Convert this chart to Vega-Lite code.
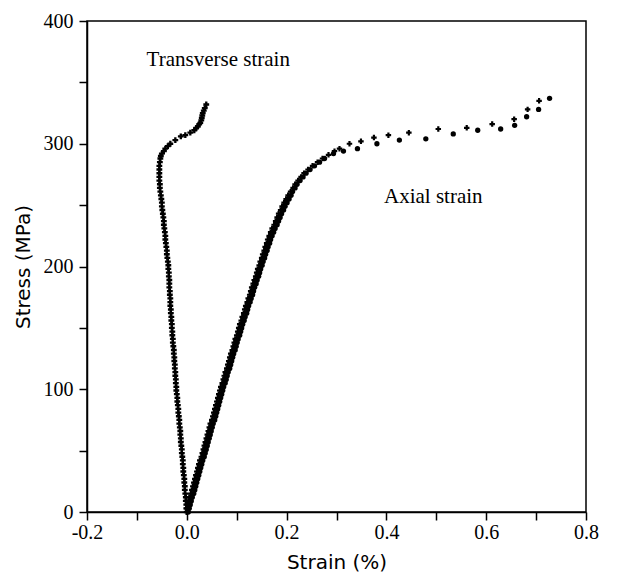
{
  "$schema": "https://vega.github.io/schema/vega-lite/v6.json",
  "width": 499,
  "height": 491,
  "autosize": "none",
  "padding": {"left": 87, "top": 21, "right": 32, "bottom": 62},
  "background": "white",
  "config": {
    "view": {"stroke": "black", "strokeWidth": 1.5},
    "axis": {"grid": false, "domainColor": "black", "domainWidth": 1.5, "tickColor": "black", "tickWidth": 1.5, "labelColor": "black", "titleColor": "black"}
  },
  "datasets": {
    "transverse": [
      {"strain":0.000,"stress":0},{"strain":-0.001,"stress":3},{"strain":-0.001,"stress":6},{"strain":-0.002,"stress":9},{"strain":-0.002,"stress":12},
      {"strain":-0.003,"stress":15},{"strain":-0.004,"stress":18},{"strain":-0.004,"stress":21},{"strain":-0.005,"stress":24},{"strain":-0.005,"stress":27},
      {"strain":-0.006,"stress":30},{"strain":-0.007,"stress":33},{"strain":-0.007,"stress":36},{"strain":-0.008,"stress":39},{"strain":-0.008,"stress":42},
      {"strain":-0.009,"stress":45},{"strain":-0.010,"stress":48},{"strain":-0.010,"stress":51},{"strain":-0.011,"stress":54},{"strain":-0.012,"stress":57},
      {"strain":-0.012,"stress":60},{"strain":-0.013,"stress":63},{"strain":-0.013,"stress":66},{"strain":-0.014,"stress":69},{"strain":-0.015,"stress":72},
      {"strain":-0.015,"stress":75},{"strain":-0.016,"stress":78},{"strain":-0.017,"stress":81},{"strain":-0.017,"stress":84},{"strain":-0.018,"stress":87},
      {"strain":-0.019,"stress":90},{"strain":-0.019,"stress":93},{"strain":-0.020,"stress":96},{"strain":-0.021,"stress":99},{"strain":-0.021,"stress":102},
      {"strain":-0.022,"stress":105},{"strain":-0.022,"stress":108},{"strain":-0.023,"stress":111},{"strain":-0.023,"stress":114},{"strain":-0.024,"stress":117},
      {"strain":-0.024,"stress":120},{"strain":-0.025,"stress":123},{"strain":-0.025,"stress":126},{"strain":-0.026,"stress":129},{"strain":-0.026,"stress":132},
      {"strain":-0.027,"stress":135},{"strain":-0.028,"stress":138},{"strain":-0.028,"stress":141},{"strain":-0.029,"stress":144},{"strain":-0.029,"stress":147},
      {"strain":-0.030,"stress":150},{"strain":-0.030,"stress":153},{"strain":-0.031,"stress":156},{"strain":-0.031,"stress":159},{"strain":-0.032,"stress":162},
      {"strain":-0.032,"stress":165},{"strain":-0.033,"stress":168},{"strain":-0.033,"stress":171},{"strain":-0.033,"stress":174},{"strain":-0.034,"stress":177},
      {"strain":-0.034,"stress":180},{"strain":-0.035,"stress":183},{"strain":-0.035,"stress":186},{"strain":-0.035,"stress":189},{"strain":-0.036,"stress":192},
      {"strain":-0.036,"stress":195},{"strain":-0.037,"stress":198},{"strain":-0.037,"stress":201},{"strain":-0.038,"stress":204},{"strain":-0.039,"stress":207},
      {"strain":-0.040,"stress":210},{"strain":-0.040,"stress":213},{"strain":-0.041,"stress":216},{"strain":-0.042,"stress":219},{"strain":-0.043,"stress":222},
      {"strain":-0.043,"stress":225},{"strain":-0.044,"stress":228},{"strain":-0.045,"stress":231},{"strain":-0.046,"stress":234},{"strain":-0.046,"stress":237},
      {"strain":-0.047,"stress":240},{"strain":-0.048,"stress":243},{"strain":-0.049,"stress":246},{"strain":-0.050,"stress":249},{"strain":-0.050,"stress":252},
      {"strain":-0.051,"stress":255},{"strain":-0.052,"stress":258},{"strain":-0.053,"stress":261},{"strain":-0.054,"stress":264},{"strain":-0.054,"stress":267},
      {"strain":-0.055,"stress":270},{"strain":-0.055,"stress":273},{"strain":-0.055,"stress":276},{"strain":-0.055,"stress":279},{"strain":-0.055,"stress":282},
      {"strain":-0.054,"stress":285},{"strain":-0.053,"stress":288},{"strain":-0.052,"stress":290},{"strain":-0.050,"stress":292},{"strain":-0.046,"stress":294},
      {"strain":-0.043,"stress":296},{"strain":-0.038,"stress":298},{"strain":-0.033,"stress":300},{"strain":-0.023,"stress":303},{"strain":-0.012,"stress":306},
      {"strain":-0.003,"stress":307},{"strain":0.007,"stress":309},{"strain":0.015,"stress":311},{"strain":0.019,"stress":313},{"strain":0.022,"stress":314},
      {"strain":0.025,"stress":316},{"strain":0.027,"stress":317},{"strain":0.029,"stress":319},{"strain":0.030,"stress":321},{"strain":0.031,"stress":323},
      {"strain":0.032,"stress":325},{"strain":0.034,"stress":327},{"strain":0.036,"stress":329},{"strain":0.039,"stress":332}
    ],
    "axialA": [
      {"strain":0.000,"stress":0},{"strain":0.000,"stress":3},{"strain":0.001,"stress":6},{"strain":0.003,"stress":9},{"strain":0.005,"stress":12},
      {"strain":0.008,"stress":15},{"strain":0.010,"stress":18},{"strain":0.012,"stress":21},{"strain":0.014,"stress":24},{"strain":0.016,"stress":27},
      {"strain":0.018,"stress":30},{"strain":0.020,"stress":33},{"strain":0.022,"stress":36},{"strain":0.024,"stress":39},{"strain":0.026,"stress":42},
      {"strain":0.029,"stress":45},{"strain":0.031,"stress":48},{"strain":0.033,"stress":51},{"strain":0.035,"stress":54},{"strain":0.037,"stress":57},
      {"strain":0.039,"stress":60},{"strain":0.041,"stress":63},{"strain":0.043,"stress":66},{"strain":0.045,"stress":69},{"strain":0.047,"stress":72},
      {"strain":0.050,"stress":75},{"strain":0.052,"stress":78},{"strain":0.054,"stress":81},{"strain":0.056,"stress":84},{"strain":0.058,"stress":87},
      {"strain":0.060,"stress":90},{"strain":0.062,"stress":93},{"strain":0.064,"stress":96},{"strain":0.066,"stress":99},{"strain":0.068,"stress":102},
      {"strain":0.071,"stress":105},{"strain":0.073,"stress":108},{"strain":0.075,"stress":111},{"strain":0.077,"stress":114},{"strain":0.080,"stress":117},
      {"strain":0.082,"stress":120},{"strain":0.084,"stress":123},{"strain":0.086,"stress":126},{"strain":0.088,"stress":129},{"strain":0.091,"stress":132},
      {"strain":0.093,"stress":135},{"strain":0.095,"stress":138},{"strain":0.097,"stress":141},{"strain":0.100,"stress":144},{"strain":0.102,"stress":147},
      {"strain":0.104,"stress":150},{"strain":0.106,"stress":153},{"strain":0.109,"stress":156},{"strain":0.111,"stress":159},{"strain":0.114,"stress":162},
      {"strain":0.116,"stress":165},{"strain":0.118,"stress":168},{"strain":0.121,"stress":171},{"strain":0.123,"stress":174},{"strain":0.126,"stress":177},
      {"strain":0.128,"stress":180},{"strain":0.130,"stress":183},{"strain":0.133,"stress":186},{"strain":0.135,"stress":189},{"strain":0.138,"stress":192},
      {"strain":0.140,"stress":195},{"strain":0.142,"stress":198},{"strain":0.145,"stress":201},{"strain":0.147,"stress":204},{"strain":0.150,"stress":207},
      {"strain":0.152,"stress":210},{"strain":0.155,"stress":213},{"strain":0.157,"stress":216},{"strain":0.160,"stress":219},{"strain":0.162,"stress":222},
      {"strain":0.165,"stress":225},{"strain":0.168,"stress":228},{"strain":0.171,"stress":231},{"strain":0.175,"stress":234},{"strain":0.178,"stress":237},
      {"strain":0.181,"stress":240},{"strain":0.184,"stress":243},{"strain":0.188,"stress":246},{"strain":0.191,"stress":249},{"strain":0.195,"stress":252},
      {"strain":0.199,"stress":255},{"strain":0.203,"stress":258},{"strain":0.208,"stress":261},{"strain":0.213,"stress":264},{"strain":0.217,"stress":267},
      {"strain":0.223,"stress":270},{"strain":0.229,"stress":273},{"strain":0.235,"stress":276},{"strain":0.243,"stress":279},{"strain":0.252,"stress":282},
      {"strain":0.262,"stress":285},{"strain":0.272,"stress":288},{"strain":0.284,"stress":291},{"strain":0.296,"stress":294},{"strain":0.306,"stress":296},
      {"strain":0.326,"stress":300},{"strain":0.349,"stress":302},{"strain":0.375,"stress":305},{"strain":0.404,"stress":307},{"strain":0.445,"stress":309},
      {"strain":0.504,"stress":312},{"strain":0.561,"stress":313},{"strain":0.612,"stress":316},{"strain":0.656,"stress":320},{"strain":0.683,"stress":328},
      {"strain":0.706,"stress":335}
    ],
    "axialB": [
      {"strain":0.003,"stress":0},{"strain":0.005,"stress":3},{"strain":0.007,"stress":6},{"strain":0.009,"stress":9},{"strain":0.011,"stress":12},
      {"strain":0.014,"stress":15},{"strain":0.016,"stress":18},{"strain":0.018,"stress":21},{"strain":0.020,"stress":24},{"strain":0.022,"stress":27},
      {"strain":0.024,"stress":30},{"strain":0.026,"stress":33},{"strain":0.028,"stress":36},{"strain":0.030,"stress":39},{"strain":0.032,"stress":42},
      {"strain":0.035,"stress":45},{"strain":0.037,"stress":48},{"strain":0.039,"stress":51},{"strain":0.041,"stress":54},{"strain":0.043,"stress":57},
      {"strain":0.045,"stress":60},{"strain":0.047,"stress":63},{"strain":0.049,"stress":66},{"strain":0.051,"stress":69},{"strain":0.053,"stress":72},
      {"strain":0.056,"stress":75},{"strain":0.058,"stress":78},{"strain":0.060,"stress":81},{"strain":0.062,"stress":84},{"strain":0.064,"stress":87},
      {"strain":0.066,"stress":90},{"strain":0.068,"stress":93},{"strain":0.070,"stress":96},{"strain":0.072,"stress":99},{"strain":0.074,"stress":102},
      {"strain":0.077,"stress":105},{"strain":0.079,"stress":108},{"strain":0.081,"stress":111},{"strain":0.083,"stress":114},{"strain":0.086,"stress":117},
      {"strain":0.088,"stress":120},{"strain":0.090,"stress":123},{"strain":0.092,"stress":126},{"strain":0.094,"stress":129},{"strain":0.097,"stress":132},
      {"strain":0.099,"stress":135},{"strain":0.101,"stress":138},{"strain":0.103,"stress":141},{"strain":0.106,"stress":144},{"strain":0.108,"stress":147},
      {"strain":0.110,"stress":150},{"strain":0.112,"stress":153},{"strain":0.115,"stress":156},{"strain":0.117,"stress":159},{"strain":0.120,"stress":162},
      {"strain":0.122,"stress":165},{"strain":0.124,"stress":168},{"strain":0.127,"stress":171},{"strain":0.129,"stress":174},{"strain":0.132,"stress":177},
      {"strain":0.134,"stress":180},{"strain":0.136,"stress":183},{"strain":0.139,"stress":186},{"strain":0.141,"stress":189},{"strain":0.144,"stress":192},
      {"strain":0.146,"stress":195},{"strain":0.148,"stress":198},{"strain":0.151,"stress":201},{"strain":0.153,"stress":204},{"strain":0.156,"stress":207},
      {"strain":0.158,"stress":210},{"strain":0.161,"stress":213},{"strain":0.163,"stress":216},{"strain":0.166,"stress":219},{"strain":0.168,"stress":222},
      {"strain":0.171,"stress":225},{"strain":0.174,"stress":228},{"strain":0.177,"stress":231},{"strain":0.181,"stress":234},{"strain":0.184,"stress":237},
      {"strain":0.187,"stress":240},{"strain":0.190,"stress":243},{"strain":0.194,"stress":246},{"strain":0.197,"stress":249},{"strain":0.201,"stress":252},
      {"strain":0.205,"stress":255},{"strain":0.209,"stress":258},{"strain":0.212,"stress":261},{"strain":0.217,"stress":264},{"strain":0.221,"stress":267},
      {"strain":0.227,"stress":270},{"strain":0.233,"stress":273},{"strain":0.239,"stress":276},{"strain":0.247,"stress":279},{"strain":0.256,"stress":282},
      {"strain":0.266,"stress":285},{"strain":0.276,"stress":288},{"strain":0.294,"stress":292},{"strain":0.314,"stress":294},{"strain":0.342,"stress":296},
      {"strain":0.381,"stress":300},{"strain":0.426,"stress":303},{"strain":0.479,"stress":304},{"strain":0.534,"stress":308},{"strain":0.583,"stress":311},
      {"strain":0.629,"stress":312},{"strain":0.657,"stress":315},{"strain":0.681,"stress":322},{"strain":0.705,"stress":328},{"strain":0.727,"stress":337}
    ],
    "labels": [
      {"label": "Transverse strain", "strain": 0.063, "stress": 368},
      {"label": "Axial strain", "strain": 0.494, "stress": 257}
    ]
  },
  "layer": [
    {
      "data": {"name": "labels"},
      "mark": {"type": "text", "font": "Liberation Serif", "fontSize": 21, "color": "black", "align": "center", "baseline": "middle"},
      "encoding": {
        "x": {"field": "strain", "type": "quantitative", "scale": {"domain": [-0.2, 0.8], "nice": false, "zero": false},
          "axis": {"values": [-0.2, -0.1, 0, 0.1, 0.2, 0.3, 0.4, 0.5, 0.6, 0.7, 0.8], "labelExpr": "abs(datum.value * 10) % 2 > 0.5 ? '' : (datum.value < 0 ? '-' + format(-datum.value, '.1f') : format(datum.value, '.1f'))", "tickSize": 8, "labelPadding": 2, "labelFont": "Liberation Serif", "labelFontSize": 20, "title": "Strain (%)", "titleFont": "DejaVu Sans", "titleFontSize": 20, "titleFontWeight": "normal", "titlePadding": 10, "labelFlush": false,
            "encode": {"labels": {"update": {"font": {"value": "Liberation Serif"}, "fontSize": {"value": 20}}}}}},
        "y": {"field": "stress", "type": "quantitative", "scale": {"domain": [0, 400], "nice": false},
          "axis": {"values": [0, 50, 100, 150, 200, 250, 300, 350, 400], "labelExpr": "datum.value % 100 == 0 ? format(datum.value, 'd') : ''", "tickSize": 8, "labelPadding": 6, "labelFont": "Liberation Serif", "labelFontSize": 20, "title": "Stress (MPa)", "titleFont": "DejaVu Sans", "titleFontSize": 20, "titleFontWeight": "normal", "titlePadding": 10, "labelFlush": false,
            "encode": {"labels": {"update": {"font": {"value": "Liberation Serif"}, "fontSize": {"value": 20}}}}}},
        "text": {"field": "label"}
      }
    },
    {
      "data": {"name": "transverse"},
      "mark": {"type": "point", "shape": "cross", "filled": true, "color": "black", "size": 34, "opacity": 1},
      "encoding": {
        "x": {"field": "strain", "type": "quantitative"},
        "y": {"field": "stress", "type": "quantitative"}
      }
    },
    {
      "data": {"name": "axialA"},
      "mark": {"type": "point", "shape": "cross", "filled": true, "color": "black", "size": 30, "opacity": 1},
      "encoding": {
        "x": {"field": "strain", "type": "quantitative"},
        "y": {"field": "stress", "type": "quantitative"}
      }
    },
    {
      "data": {"name": "axialB"},
      "mark": {"type": "point", "shape": "circle", "filled": true, "color": "black", "size": 28, "opacity": 1},
      "encoding": {
        "x": {"field": "strain", "type": "quantitative"},
        "y": {"field": "stress", "type": "quantitative"}
      }
    }
  ]
}
